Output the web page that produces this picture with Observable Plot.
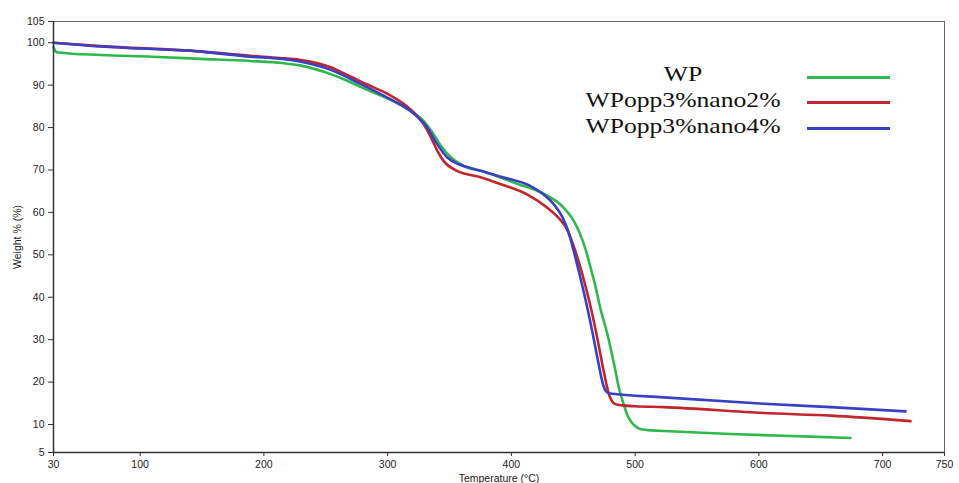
<!DOCTYPE html>
<html>
<head>
<meta charset="utf-8">
<script src="https://cdn.jsdelivr.net/npm/d3@7"></script>
<script src="https://cdn.jsdelivr.net/npm/@observablehq/plot@0.6"></script>
<style>
  html, body { margin: 0; padding: 0; background: #fff; }
  #wrap { position: relative; width: 959px; height: 483px; }
  .leg { position: absolute; font-family: "Liberation Serif", "Times New Roman", serif; font-size: 21px; color: #111; text-align: center; width: 240px; transform: scaleX(1.22); transform-origin: center; }
  .legline { position: absolute; height: 3px; width: 83px; left: 807px; }
</style>
</head>
<body>
<div id="wrap"></div>
<script>
// ---- data ----
const seriesNames = ["WP", "WPopp3%nano2%", "WPopp3%nano4%"];

const wpT = [30, 32, 34, 68, 110, 149, 189, 215, 230, 254, 266, 278, 290, 302, 318, 329, 337, 343, 351, 361, 378, 405, 426, 442, 450, 455, 460, 464, 468, 472, 478, 483, 487, 490.6, 494, 498, 503, 510, 523, 577, 631, 674];
const wpW = [99.0, 97.9, 97.7, 97.1, 96.7, 96.2, 95.7, 95.2, 94.6, 92.6, 91.2, 89.6, 88.1, 86.6, 84.0, 81.6, 78.5, 75.7, 73.0, 71.0, 69.6, 66.7, 64.4, 61.2, 58.2, 55.3, 51.2, 47.0, 42.5, 37.3, 30.8, 24.2, 18.5, 14.9, 12.0, 10.2, 9.3, 9.0, 8.85, 8.3, 7.9, 7.6];

const n2T = [30, 68, 149, 189, 213, 230, 254, 266, 278, 290, 302, 318, 329, 335, 340, 345, 356, 375, 391, 413, 429, 440, 445, 450, 455, 460, 465, 470, 475, 478, 481, 484, 490, 500, 523, 604, 658, 722.5];
const n2W = [100.0, 99.2, 97.95, 96.9, 96.4, 95.9, 94.2, 92.6, 90.9, 89.3, 87.6, 84.4, 80.8, 77.7, 74.6, 72.2, 69.8, 68.3, 66.7, 64.2, 61.1, 58.1, 56.0, 52.3, 47.8, 42.5, 36.5, 29.5, 22.0, 18.0, 15.6, 14.8, 14.5, 14.3, 14.1, 12.7, 12.1, 10.8];

const n4T = [30, 68, 149, 189, 213, 230, 254, 278, 302, 318, 332, 340, 348, 357, 363, 375, 393, 418, 434, 441, 446, 451, 456, 461, 466, 470, 474, 476.5, 480, 523, 604, 658, 718.5];
const n4W = [100.0, 99.1, 97.9, 96.7, 96.2, 95.5, 93.6, 90.3, 86.7, 84.0, 80.0, 76.1, 73.0, 71.4, 70.8, 69.8, 68.3, 65.8, 62.0, 59.0, 55.5, 50.2, 44.3, 38.0, 31.0, 25.0, 19.5, 17.8, 17.3, 16.4, 14.9, 14.1, 13.1];

const xTicks = [30, 100, 200, 300, 400, 500, 600, 700, 750];
const yTicks = [5, 10, 20, 30, 40, 50, 60, 70, 80, 90, 100, 105];

// ---- styles ----
const colors = ["#2fb94c", "#c0262c", "#3b3fc6"];

const rows = [];
[[wpT, wpW], [n2T, n2W], [n4T, n4W]].forEach(([T, W], i) => {
  T.forEach((t, j) => rows.push({series: seriesNames[i], T: t, W: W[j]}));
});

const chart = Plot.plot({
  width: 959,
  height: 483,
  marginLeft: 53,
  marginRight: 15,
  marginTop: 21,
  marginBottom: 31,
  style: {fontFamily: "'Liberation Sans', Arial, sans-serif", fontSize: "10.5px", background: "#fff", color: "#222"},
  x: {domain: [30, 750], range: [53, 944]},
  y: {type: "linear", domain: [5, 10, 105], range: [452, 424, 21]},
  color: {domain: seriesNames, range: colors},
  marks: [
    Plot.frame({stroke: "#666", strokeWidth: 1}),
    Plot.line(rows, {x: "T", y: "W", z: "series", stroke: "series", strokeWidth: 2.6, curve: "monotone-x"}),
    Plot.axisX({ticks: xTicks, tickSize: 4, tickPadding: 4, label: "Temperature (°C)", labelAnchor: "center", labelArrow: "none", labelOffset: 29, stroke: "#333"}),
    Plot.axisY({ticks: yTicks, tickSize: 5, tickPadding: 4, label: "Weight % (%)", labelAnchor: "center", labelArrow: "none", labelOffset: 40, stroke: "#333"}),
    Plot.ruleX([30], {stroke: "#333", strokeWidth: 1.5}),
    Plot.ruleY([5], {stroke: "#333", strokeWidth: 1.5})
  ]
});

const wrap = document.getElementById("wrap");
wrap.appendChild(chart);

const legTops = [62, 88, 114];
const lineTops = [76, 100.5, 127];
seriesNames.forEach((name, i) => {
  const t = document.createElement("div");
  t.className = "leg";
  t.textContent = name;
  t.style.left = (683 - 120) + "px";
  t.style.top = legTops[i] + "px";
  wrap.appendChild(t);
  const l = document.createElement("div");
  l.className = "legline";
  l.style.top = lineTops[i] + "px";
  l.style.background = colors[i];
  wrap.appendChild(l);
});
</script>
</body>
</html>
